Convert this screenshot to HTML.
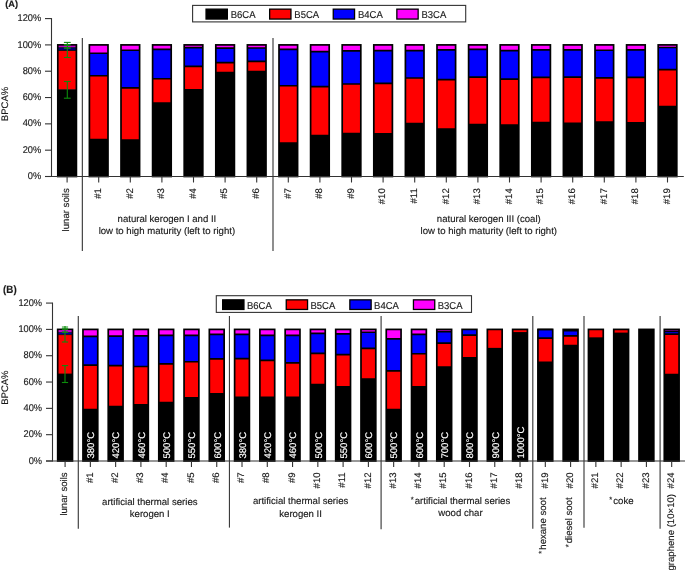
<!DOCTYPE html><html><head><meta charset="utf-8"><style>html,body{margin:0;padding:0;background:#fff;}svg{display:block;}text{text-rendering:geometricPrecision;font-family:"Liberation Sans", sans-serif;stroke:#1a1a1a;stroke-width:0.15px;}text.w{stroke:#fff;}svg{will-change:transform;}</style></head><body>
<svg width="685" height="570" viewBox="0 0 685 570">
<rect width="685" height="570" fill="#fff"/>
<line x1="82.35" y1="38" x2="82.35" y2="251" stroke="#3c3c3c" stroke-width="1.15"/>
<line x1="273" y1="38" x2="273" y2="251" stroke="#3c3c3c" stroke-width="1.15"/>
<rect x="57.8" y="89.67" width="18.6" height="86.83" fill="#000000"/>
<rect x="57.8" y="50.51" width="18.6" height="39.16" fill="#ff0000"/>
<rect x="57.8" y="47.23" width="18.6" height="3.28" fill="#00006e"/>
<rect x="57.8" y="44.9" width="18.6" height="2.33" fill="#ff00ff"/>
<path d="M57.8 89.67H76.4M57.8 50.51H76.4M57.8 47.23H76.4" stroke="#000" stroke-width="0.8"/>
<rect x="57.8" y="44.9" width="18.6" height="131.6" fill="none" stroke="#000" stroke-width="1.7"/>
<rect x="89.4" y="139.6" width="18.6" height="36.9" fill="#000000"/>
<rect x="89.4" y="75.74" width="18.6" height="63.86" fill="#ff0000"/>
<rect x="89.4" y="53.27" width="18.6" height="22.47" fill="#0000ff"/>
<rect x="89.4" y="44.9" width="18.6" height="8.37" fill="#ff00ff"/>
<path d="M89.4 139.6H108M89.4 75.74H108M89.4 53.27H108" stroke="#000" stroke-width="1.7"/>
<rect x="89.4" y="44.9" width="18.6" height="131.6" fill="none" stroke="#000" stroke-width="1.7"/>
<rect x="121" y="140" width="18.6" height="36.5" fill="#000000"/>
<rect x="121" y="87.96" width="18.6" height="52.03" fill="#ff0000"/>
<rect x="121" y="50.25" width="18.6" height="37.71" fill="#0000ff"/>
<rect x="121" y="44.9" width="18.6" height="5.35" fill="#ff00ff"/>
<path d="M121 140H139.6M121 87.96H139.6M121 50.25H139.6" stroke="#000" stroke-width="1.7"/>
<rect x="121" y="44.9" width="18.6" height="131.6" fill="none" stroke="#000" stroke-width="1.7"/>
<rect x="152.6" y="103.2" width="18.6" height="73.3" fill="#000000"/>
<rect x="152.6" y="78.76" width="18.6" height="24.44" fill="#ff0000"/>
<rect x="152.6" y="49.46" width="18.6" height="29.3" fill="#0000ff"/>
<rect x="152.6" y="44.9" width="18.6" height="4.56" fill="#ff00ff"/>
<path d="M152.6 103.2H171.2M152.6 78.76H171.2M152.6 49.46H171.2" stroke="#000" stroke-width="1.7"/>
<rect x="152.6" y="44.9" width="18.6" height="131.6" fill="none" stroke="#000" stroke-width="1.7"/>
<rect x="184.2" y="89.8" width="18.6" height="86.7" fill="#000000"/>
<rect x="184.2" y="66.41" width="18.6" height="23.39" fill="#ff0000"/>
<rect x="184.2" y="47.62" width="18.6" height="18.79" fill="#0000ff"/>
<rect x="184.2" y="44.9" width="18.6" height="2.72" fill="#ff00ff"/>
<path d="M184.2 89.8H202.8M184.2 66.41H202.8M184.2 47.62H202.8" stroke="#000" stroke-width="1.7"/>
<rect x="184.2" y="44.9" width="18.6" height="131.6" fill="none" stroke="#000" stroke-width="1.7"/>
<rect x="215.8" y="72.59" width="18.6" height="103.91" fill="#000000"/>
<rect x="215.8" y="62.6" width="18.6" height="9.99" fill="#ff0000"/>
<rect x="215.8" y="48.15" width="18.6" height="14.45" fill="#0000ff"/>
<rect x="215.8" y="44.9" width="18.6" height="3.25" fill="#ff00ff"/>
<path d="M215.8 72.59H234.4M215.8 62.6H234.4M215.8 48.15H234.4" stroke="#000" stroke-width="1.7"/>
<rect x="215.8" y="44.9" width="18.6" height="131.6" fill="none" stroke="#000" stroke-width="1.7"/>
<rect x="247.4" y="71.54" width="18.6" height="104.96" fill="#000000"/>
<rect x="247.4" y="61.29" width="18.6" height="10.25" fill="#ff0000"/>
<rect x="247.4" y="48.02" width="18.6" height="13.27" fill="#0000ff"/>
<rect x="247.4" y="44.9" width="18.6" height="3.12" fill="#ff00ff"/>
<path d="M247.4 71.54H266M247.4 61.29H266M247.4 48.02H266" stroke="#000" stroke-width="1.7"/>
<rect x="247.4" y="44.9" width="18.6" height="131.6" fill="none" stroke="#000" stroke-width="1.7"/>
<rect x="279" y="143.02" width="18.6" height="33.48" fill="#000000"/>
<rect x="279" y="85.73" width="18.6" height="57.29" fill="#ff0000"/>
<rect x="279" y="49.46" width="18.6" height="36.27" fill="#0000ff"/>
<rect x="279" y="44.9" width="18.6" height="4.56" fill="#ff00ff"/>
<path d="M279 143.02H297.6M279 85.73H297.6M279 49.46H297.6" stroke="#000" stroke-width="1.7"/>
<rect x="279" y="44.9" width="18.6" height="131.6" fill="none" stroke="#000" stroke-width="1.7"/>
<rect x="310.6" y="135.66" width="18.6" height="40.84" fill="#000000"/>
<rect x="310.6" y="86.65" width="18.6" height="49.01" fill="#ff0000"/>
<rect x="310.6" y="51.56" width="18.6" height="35.08" fill="#0000ff"/>
<rect x="310.6" y="44.9" width="18.6" height="6.66" fill="#ff00ff"/>
<path d="M310.6 135.66H329.2M310.6 86.65H329.2M310.6 51.56H329.2" stroke="#000" stroke-width="1.7"/>
<rect x="310.6" y="44.9" width="18.6" height="131.6" fill="none" stroke="#000" stroke-width="1.7"/>
<rect x="342.2" y="133.69" width="18.6" height="42.81" fill="#000000"/>
<rect x="342.2" y="84.02" width="18.6" height="49.67" fill="#ff0000"/>
<rect x="342.2" y="50.78" width="18.6" height="33.24" fill="#0000ff"/>
<rect x="342.2" y="44.9" width="18.6" height="5.88" fill="#ff00ff"/>
<path d="M342.2 133.69H360.8M342.2 84.02H360.8M342.2 50.78H360.8" stroke="#000" stroke-width="1.7"/>
<rect x="342.2" y="44.9" width="18.6" height="131.6" fill="none" stroke="#000" stroke-width="1.7"/>
<rect x="373.8" y="133.82" width="18.6" height="42.68" fill="#000000"/>
<rect x="373.8" y="83.36" width="18.6" height="50.46" fill="#ff0000"/>
<rect x="373.8" y="50.64" width="18.6" height="32.72" fill="#0000ff"/>
<rect x="373.8" y="44.9" width="18.6" height="5.74" fill="#ff00ff"/>
<path d="M373.8 133.82H392.4M373.8 83.36H392.4M373.8 50.64H392.4" stroke="#000" stroke-width="1.7"/>
<rect x="373.8" y="44.9" width="18.6" height="131.6" fill="none" stroke="#000" stroke-width="1.7"/>
<rect x="405.4" y="123.7" width="18.6" height="52.8" fill="#000000"/>
<rect x="405.4" y="77.98" width="18.6" height="45.73" fill="#ff0000"/>
<rect x="405.4" y="50.64" width="18.6" height="27.33" fill="#0000ff"/>
<rect x="405.4" y="44.9" width="18.6" height="5.74" fill="#ff00ff"/>
<path d="M405.4 123.7H424M405.4 77.98H424M405.4 50.64H424" stroke="#000" stroke-width="1.7"/>
<rect x="405.4" y="44.9" width="18.6" height="131.6" fill="none" stroke="#000" stroke-width="1.7"/>
<rect x="437" y="129.09" width="18.6" height="47.41" fill="#000000"/>
<rect x="437" y="79.55" width="18.6" height="49.54" fill="#ff0000"/>
<rect x="437" y="49.86" width="18.6" height="29.7" fill="#0000ff"/>
<rect x="437" y="44.9" width="18.6" height="4.96" fill="#ff00ff"/>
<path d="M437 129.09H455.6M437 79.55H455.6M437 49.86H455.6" stroke="#000" stroke-width="1.7"/>
<rect x="437" y="44.9" width="18.6" height="131.6" fill="none" stroke="#000" stroke-width="1.7"/>
<rect x="468.6" y="124.62" width="18.6" height="51.88" fill="#000000"/>
<rect x="468.6" y="77.06" width="18.6" height="47.57" fill="#ff0000"/>
<rect x="468.6" y="49.46" width="18.6" height="27.59" fill="#0000ff"/>
<rect x="468.6" y="44.9" width="18.6" height="4.56" fill="#ff00ff"/>
<path d="M468.6 124.62H487.2M468.6 77.06H487.2M468.6 49.46H487.2" stroke="#000" stroke-width="1.7"/>
<rect x="468.6" y="44.9" width="18.6" height="131.6" fill="none" stroke="#000" stroke-width="1.7"/>
<rect x="500.2" y="125.02" width="18.6" height="51.48" fill="#000000"/>
<rect x="500.2" y="79.16" width="18.6" height="45.86" fill="#ff0000"/>
<rect x="500.2" y="50.64" width="18.6" height="28.51" fill="#0000ff"/>
<rect x="500.2" y="44.9" width="18.6" height="5.74" fill="#ff00ff"/>
<path d="M500.2 125.02H518.8M500.2 79.16H518.8M500.2 50.64H518.8" stroke="#000" stroke-width="1.7"/>
<rect x="500.2" y="44.9" width="18.6" height="131.6" fill="none" stroke="#000" stroke-width="1.7"/>
<rect x="531.8" y="122.52" width="18.6" height="53.98" fill="#000000"/>
<rect x="531.8" y="77.45" width="18.6" height="45.07" fill="#ff0000"/>
<rect x="531.8" y="49.86" width="18.6" height="27.59" fill="#0000ff"/>
<rect x="531.8" y="44.9" width="18.6" height="4.96" fill="#ff00ff"/>
<path d="M531.8 122.52H550.4M531.8 77.45H550.4M531.8 49.86H550.4" stroke="#000" stroke-width="1.7"/>
<rect x="531.8" y="44.9" width="18.6" height="131.6" fill="none" stroke="#000" stroke-width="1.7"/>
<rect x="563.4" y="123.31" width="18.6" height="53.19" fill="#000000"/>
<rect x="563.4" y="77.06" width="18.6" height="46.25" fill="#ff0000"/>
<rect x="563.4" y="49.86" width="18.6" height="27.2" fill="#0000ff"/>
<rect x="563.4" y="44.9" width="18.6" height="4.96" fill="#ff00ff"/>
<path d="M563.4 123.31H582M563.4 77.06H582M563.4 49.86H582" stroke="#000" stroke-width="1.7"/>
<rect x="563.4" y="44.9" width="18.6" height="131.6" fill="none" stroke="#000" stroke-width="1.7"/>
<rect x="595" y="121.99" width="18.6" height="54.51" fill="#000000"/>
<rect x="595" y="77.84" width="18.6" height="44.15" fill="#ff0000"/>
<rect x="595" y="50.25" width="18.6" height="27.59" fill="#0000ff"/>
<rect x="595" y="44.9" width="18.6" height="5.35" fill="#ff00ff"/>
<path d="M595 121.99H613.6M595 77.84H613.6M595 50.25H613.6" stroke="#000" stroke-width="1.7"/>
<rect x="595" y="44.9" width="18.6" height="131.6" fill="none" stroke="#000" stroke-width="1.7"/>
<rect x="626.6" y="122.78" width="18.6" height="53.72" fill="#000000"/>
<rect x="626.6" y="77.45" width="18.6" height="45.33" fill="#ff0000"/>
<rect x="626.6" y="49.86" width="18.6" height="27.59" fill="#0000ff"/>
<rect x="626.6" y="44.9" width="18.6" height="4.96" fill="#ff00ff"/>
<path d="M626.6 122.78H645.2M626.6 77.45H645.2M626.6 49.86H645.2" stroke="#000" stroke-width="1.7"/>
<rect x="626.6" y="44.9" width="18.6" height="131.6" fill="none" stroke="#000" stroke-width="1.7"/>
<rect x="658.2" y="106.49" width="18.6" height="70.01" fill="#000000"/>
<rect x="658.2" y="69.57" width="18.6" height="36.92" fill="#ff0000"/>
<rect x="658.2" y="47.49" width="18.6" height="22.08" fill="#0000ff"/>
<rect x="658.2" y="44.9" width="18.6" height="2.59" fill="#ff00ff"/>
<path d="M658.2 106.49H676.8M658.2 69.57H676.8M658.2 47.49H676.8" stroke="#000" stroke-width="1.7"/>
<rect x="658.2" y="44.9" width="18.6" height="131.6" fill="none" stroke="#000" stroke-width="1.7"/>
<line x1="51.5" y1="18.1" x2="51.5" y2="177" stroke="#333" stroke-width="1.1"/>
<line x1="45" y1="176.5" x2="683.8" y2="176.5" stroke="#333" stroke-width="1.1"/>
<line x1="45" y1="176.5" x2="51.5" y2="176.5" stroke="#333" stroke-width="1.1"/>
<text transform="translate(41.2,179.1) scale(0.945,1)" font-size="9.8" text-anchor="end" fill="#1a1a1a">0%</text>
<line x1="45" y1="150.18" x2="51.5" y2="150.18" stroke="#333" stroke-width="1.1"/>
<text transform="translate(41.2,152.78) scale(0.945,1)" font-size="9.8" text-anchor="end" fill="#1a1a1a">20%</text>
<line x1="45" y1="123.86" x2="51.5" y2="123.86" stroke="#333" stroke-width="1.1"/>
<text transform="translate(41.2,126.46) scale(0.945,1)" font-size="9.8" text-anchor="end" fill="#1a1a1a">40%</text>
<line x1="45" y1="97.54" x2="51.5" y2="97.54" stroke="#333" stroke-width="1.1"/>
<text transform="translate(41.2,100.14) scale(0.945,1)" font-size="9.8" text-anchor="end" fill="#1a1a1a">60%</text>
<line x1="45" y1="71.22" x2="51.5" y2="71.22" stroke="#333" stroke-width="1.1"/>
<text transform="translate(41.2,73.82) scale(0.945,1)" font-size="9.8" text-anchor="end" fill="#1a1a1a">80%</text>
<line x1="45" y1="44.9" x2="51.5" y2="44.9" stroke="#333" stroke-width="1.1"/>
<text transform="translate(41.2,47.5) scale(0.945,1)" font-size="9.8" text-anchor="end" fill="#1a1a1a">100%</text>
<line x1="45" y1="18.58" x2="51.5" y2="18.58" stroke="#333" stroke-width="1.1"/>
<text transform="translate(41.2,21.18) scale(0.945,1)" font-size="9.8" text-anchor="end" fill="#1a1a1a">120%</text>
<line x1="67.1" y1="176.5" x2="67.1" y2="182.5" stroke="#333" stroke-width="1.1"/>
<line x1="98.7" y1="176.5" x2="98.7" y2="182.5" stroke="#333" stroke-width="1.1"/>
<line x1="130.3" y1="176.5" x2="130.3" y2="182.5" stroke="#333" stroke-width="1.1"/>
<line x1="161.9" y1="176.5" x2="161.9" y2="182.5" stroke="#333" stroke-width="1.1"/>
<line x1="193.5" y1="176.5" x2="193.5" y2="182.5" stroke="#333" stroke-width="1.1"/>
<line x1="225.1" y1="176.5" x2="225.1" y2="182.5" stroke="#333" stroke-width="1.1"/>
<line x1="256.7" y1="176.5" x2="256.7" y2="182.5" stroke="#333" stroke-width="1.1"/>
<line x1="288.3" y1="176.5" x2="288.3" y2="182.5" stroke="#333" stroke-width="1.1"/>
<line x1="319.9" y1="176.5" x2="319.9" y2="182.5" stroke="#333" stroke-width="1.1"/>
<line x1="351.5" y1="176.5" x2="351.5" y2="182.5" stroke="#333" stroke-width="1.1"/>
<line x1="383.1" y1="176.5" x2="383.1" y2="182.5" stroke="#333" stroke-width="1.1"/>
<line x1="414.7" y1="176.5" x2="414.7" y2="182.5" stroke="#333" stroke-width="1.1"/>
<line x1="446.3" y1="176.5" x2="446.3" y2="182.5" stroke="#333" stroke-width="1.1"/>
<line x1="477.9" y1="176.5" x2="477.9" y2="182.5" stroke="#333" stroke-width="1.1"/>
<line x1="509.5" y1="176.5" x2="509.5" y2="182.5" stroke="#333" stroke-width="1.1"/>
<line x1="541.1" y1="176.5" x2="541.1" y2="182.5" stroke="#333" stroke-width="1.1"/>
<line x1="572.7" y1="176.5" x2="572.7" y2="182.5" stroke="#333" stroke-width="1.1"/>
<line x1="604.3" y1="176.5" x2="604.3" y2="182.5" stroke="#333" stroke-width="1.1"/>
<line x1="635.9" y1="176.5" x2="635.9" y2="182.5" stroke="#333" stroke-width="1.1"/>
<line x1="667.5" y1="176.5" x2="667.5" y2="182.5" stroke="#333" stroke-width="1.1"/>
<g stroke="#0c8c0c" stroke-width="1.1" fill="none">
<line x1="67.3" y1="42.4" x2="67.3" y2="57.5"/>
<line x1="63.9" y1="42.4" x2="70.7" y2="42.4"/>
<line x1="63.9" y1="57.5" x2="70.7" y2="57.5"/>
<line x1="67.3" y1="81.5" x2="67.3" y2="98.2"/>
<line x1="63.9" y1="81.5" x2="70.7" y2="81.5"/>
<line x1="63.9" y1="98.2" x2="70.7" y2="98.2"/>
</g>
<rect x="63.9" y="44.0" width="6.8" height="1.7" fill="#0c8c0c"/>
<rect x="63.9" y="47.2" width="6.8" height="1.6" fill="#0c8c0c"/>
<text transform="translate(69.3,188.2) rotate(-90)" font-size="9.6" text-anchor="end" fill="#1a1a1a">lunar soils</text>
<text transform="translate(100.9,188.2) rotate(-90)" font-size="9.6" text-anchor="end" fill="#1a1a1a">#1</text>
<text transform="translate(132.5,188.2) rotate(-90)" font-size="9.6" text-anchor="end" fill="#1a1a1a">#2</text>
<text transform="translate(164.1,188.2) rotate(-90)" font-size="9.6" text-anchor="end" fill="#1a1a1a">#3</text>
<text transform="translate(195.7,188.2) rotate(-90)" font-size="9.6" text-anchor="end" fill="#1a1a1a">#4</text>
<text transform="translate(227.3,188.2) rotate(-90)" font-size="9.6" text-anchor="end" fill="#1a1a1a">#5</text>
<text transform="translate(258.9,188.2) rotate(-90)" font-size="9.6" text-anchor="end" fill="#1a1a1a">#6</text>
<text transform="translate(290.5,188.2) rotate(-90)" font-size="9.6" text-anchor="end" fill="#1a1a1a">#7</text>
<text transform="translate(322.1,188.2) rotate(-90)" font-size="9.6" text-anchor="end" fill="#1a1a1a">#8</text>
<text transform="translate(353.7,188.2) rotate(-90)" font-size="9.6" text-anchor="end" fill="#1a1a1a">#9</text>
<text transform="translate(385.3,188.2) rotate(-90)" font-size="9.6" text-anchor="end" fill="#1a1a1a">#10</text>
<text transform="translate(416.9,188.2) rotate(-90)" font-size="9.6" text-anchor="end" fill="#1a1a1a">#11</text>
<text transform="translate(448.5,188.2) rotate(-90)" font-size="9.6" text-anchor="end" fill="#1a1a1a">#12</text>
<text transform="translate(480.1,188.2) rotate(-90)" font-size="9.6" text-anchor="end" fill="#1a1a1a">#13</text>
<text transform="translate(511.7,188.2) rotate(-90)" font-size="9.6" text-anchor="end" fill="#1a1a1a">#14</text>
<text transform="translate(543.3,188.2) rotate(-90)" font-size="9.6" text-anchor="end" fill="#1a1a1a">#15</text>
<text transform="translate(574.9,188.2) rotate(-90)" font-size="9.6" text-anchor="end" fill="#1a1a1a">#16</text>
<text transform="translate(606.5,188.2) rotate(-90)" font-size="9.6" text-anchor="end" fill="#1a1a1a">#17</text>
<text transform="translate(638.1,188.2) rotate(-90)" font-size="9.6" text-anchor="end" fill="#1a1a1a">#18</text>
<text transform="translate(669.7,188.2) rotate(-90)" font-size="9.6" text-anchor="end" fill="#1a1a1a">#19</text>
<text x="166.9" y="222" font-size="9.6" text-anchor="middle" fill="#1a1a1a">natural kerogen I and II</text>
<text x="166.9" y="233.6" font-size="9.6" text-anchor="middle" fill="#1a1a1a">low to high maturity (left to right)</text>
<text x="488.8" y="222" font-size="9.6" text-anchor="middle" fill="#1a1a1a">natural kerogen III (coal)</text>
<text x="488.8" y="233.6" font-size="9.6" text-anchor="middle" fill="#1a1a1a">low to high maturity (left to right)</text>
<text x="5.3" y="7.2" font-size="9.2" font-weight="bold" fill="#1a1a1a">(A)</text>
<text transform="translate(7.9,104) rotate(-90)" font-size="9.5" text-anchor="middle" fill="#1a1a1a">BPCA%</text>
<rect x="192.6" y="5.4" width="273.1" height="16.5" fill="#fff" stroke="#333" stroke-width="1.1"/>
<rect x="206.05" y="9.15" width="21.3" height="9.9" fill="#000000" stroke="#000" stroke-width="1.3"/>
<text transform="translate(230.7,17.5) scale(0.95,1)" font-size="10" fill="#1a1a1a">B6CA</text>
<rect x="269.65" y="9.15" width="21.3" height="9.9" fill="#ff0000" stroke="#000" stroke-width="1.3"/>
<text transform="translate(294.3,17.5) scale(0.95,1)" font-size="10" fill="#1a1a1a">B5CA</text>
<rect x="333.25" y="9.15" width="21.3" height="9.9" fill="#0000ff" stroke="#000" stroke-width="1.3"/>
<text transform="translate(357.9,17.5) scale(0.95,1)" font-size="10" fill="#1a1a1a">B4CA</text>
<rect x="396.85" y="9.15" width="21.3" height="9.9" fill="#ff00ff" stroke="#000" stroke-width="1.3"/>
<text transform="translate(421.5,17.5) scale(0.95,1)" font-size="10" fill="#1a1a1a">B3CA</text>
<line x1="78.3" y1="316" x2="78.3" y2="528.7" stroke="#3c3c3c" stroke-width="1.15"/>
<line x1="229.45" y1="316" x2="229.45" y2="527.6" stroke="#3c3c3c" stroke-width="1.15"/>
<line x1="381.1" y1="316" x2="381.1" y2="529.2" stroke="#3c3c3c" stroke-width="1.15"/>
<line x1="532.8" y1="316" x2="532.8" y2="528.7" stroke="#3c3c3c" stroke-width="1.15"/>
<line x1="584" y1="316" x2="584" y2="527.8" stroke="#3c3c3c" stroke-width="1.15"/>
<line x1="660.1" y1="316" x2="660.1" y2="528.7" stroke="#3c3c3c" stroke-width="1.15"/>
<rect x="57.69" y="374.01" width="14.8" height="86.99" fill="#000000"/>
<rect x="57.69" y="334.63" width="14.8" height="39.38" fill="#ff0000"/>
<rect x="57.69" y="332.26" width="14.8" height="2.37" fill="#0000a8"/>
<rect x="57.69" y="329.4" width="14.8" height="2.86" fill="#ff00ff"/>
<path d="M57.69 374.01H72.49M57.69 334.63H72.49M57.69 332.26H72.49" stroke="#000" stroke-width="0.8"/>
<rect x="57.69" y="329.4" width="14.8" height="131.6" fill="none" stroke="#000" stroke-width="1.7"/>
<rect x="82.96" y="409.7" width="14.8" height="51.3" fill="#000000"/>
<rect x="82.96" y="365.05" width="14.8" height="44.65" fill="#ff0000"/>
<rect x="82.96" y="336.34" width="14.8" height="28.71" fill="#0000ff"/>
<rect x="82.96" y="329.4" width="14.8" height="6.94" fill="#ff00ff"/>
<path d="M82.96 409.7H97.76M82.96 365.05H97.76M82.96 336.34H97.76" stroke="#000" stroke-width="1.7"/>
<rect x="82.96" y="329.4" width="14.8" height="131.6" fill="none" stroke="#000" stroke-width="1.7"/>
<rect x="108.24" y="406.67" width="14.8" height="54.33" fill="#000000"/>
<rect x="108.24" y="365.58" width="14.8" height="41.09" fill="#ff0000"/>
<rect x="108.24" y="336.08" width="14.8" height="29.5" fill="#0000ff"/>
<rect x="108.24" y="329.4" width="14.8" height="6.68" fill="#ff00ff"/>
<path d="M108.24 406.67H123.04M108.24 365.58H123.04M108.24 336.08H123.04" stroke="#000" stroke-width="1.7"/>
<rect x="108.24" y="329.4" width="14.8" height="131.6" fill="none" stroke="#000" stroke-width="1.7"/>
<rect x="133.51" y="404.83" width="14.8" height="56.17" fill="#000000"/>
<rect x="133.51" y="366.5" width="14.8" height="38.32" fill="#ff0000"/>
<rect x="133.51" y="335.82" width="14.8" height="30.69" fill="#0000ff"/>
<rect x="133.51" y="329.4" width="14.8" height="6.42" fill="#ff00ff"/>
<path d="M133.51 404.83H148.31M133.51 366.5H148.31M133.51 335.82H148.31" stroke="#000" stroke-width="1.7"/>
<rect x="133.51" y="329.4" width="14.8" height="131.6" fill="none" stroke="#000" stroke-width="1.7"/>
<rect x="158.79" y="402.72" width="14.8" height="58.28" fill="#000000"/>
<rect x="158.79" y="363.87" width="14.8" height="38.85" fill="#ff0000"/>
<rect x="158.79" y="335.42" width="14.8" height="28.45" fill="#0000ff"/>
<rect x="158.79" y="329.4" width="14.8" height="6.02" fill="#ff00ff"/>
<path d="M158.79 402.72H173.59M158.79 363.87H173.59M158.79 335.42H173.59" stroke="#000" stroke-width="1.7"/>
<rect x="158.79" y="329.4" width="14.8" height="131.6" fill="none" stroke="#000" stroke-width="1.7"/>
<rect x="184.06" y="397.85" width="14.8" height="63.15" fill="#000000"/>
<rect x="184.06" y="361.76" width="14.8" height="36.09" fill="#ff0000"/>
<rect x="184.06" y="335.29" width="14.8" height="26.47" fill="#0000ff"/>
<rect x="184.06" y="329.4" width="14.8" height="5.89" fill="#ff00ff"/>
<path d="M184.06 397.85H198.86M184.06 361.76H198.86M184.06 335.29H198.86" stroke="#000" stroke-width="1.7"/>
<rect x="184.06" y="329.4" width="14.8" height="131.6" fill="none" stroke="#000" stroke-width="1.7"/>
<rect x="209.34" y="393.9" width="14.8" height="67.1" fill="#000000"/>
<rect x="209.34" y="358.86" width="14.8" height="35.03" fill="#ff0000"/>
<rect x="209.34" y="334.37" width="14.8" height="24.5" fill="#0000ff"/>
<rect x="209.34" y="329.4" width="14.8" height="4.97" fill="#ff00ff"/>
<path d="M209.34 393.9H224.14M209.34 358.86H224.14M209.34 334.37H224.14" stroke="#000" stroke-width="1.7"/>
<rect x="209.34" y="329.4" width="14.8" height="131.6" fill="none" stroke="#000" stroke-width="1.7"/>
<rect x="234.61" y="397.45" width="14.8" height="63.55" fill="#000000"/>
<rect x="234.61" y="358.6" width="14.8" height="38.85" fill="#ff0000"/>
<rect x="234.61" y="334.37" width="14.8" height="24.23" fill="#0000ff"/>
<rect x="234.61" y="329.4" width="14.8" height="4.97" fill="#ff00ff"/>
<path d="M234.61 397.45H249.41M234.61 358.6H249.41M234.61 334.37H249.41" stroke="#000" stroke-width="1.7"/>
<rect x="234.61" y="329.4" width="14.8" height="131.6" fill="none" stroke="#000" stroke-width="1.7"/>
<rect x="259.89" y="397.45" width="14.8" height="63.55" fill="#000000"/>
<rect x="259.89" y="360.44" width="14.8" height="37.01" fill="#ff0000"/>
<rect x="259.89" y="335.29" width="14.8" height="25.15" fill="#0000ff"/>
<rect x="259.89" y="329.4" width="14.8" height="5.89" fill="#ff00ff"/>
<path d="M259.89 397.45H274.69M259.89 360.44H274.69M259.89 335.29H274.69" stroke="#000" stroke-width="1.7"/>
<rect x="259.89" y="329.4" width="14.8" height="131.6" fill="none" stroke="#000" stroke-width="1.7"/>
<rect x="285.16" y="397.45" width="14.8" height="63.55" fill="#000000"/>
<rect x="285.16" y="362.95" width="14.8" height="34.51" fill="#ff0000"/>
<rect x="285.16" y="335.42" width="14.8" height="27.53" fill="#0000ff"/>
<rect x="285.16" y="329.4" width="14.8" height="6.02" fill="#ff00ff"/>
<path d="M285.16 397.45H299.96M285.16 362.95H299.96M285.16 335.42H299.96" stroke="#000" stroke-width="1.7"/>
<rect x="285.16" y="329.4" width="14.8" height="131.6" fill="none" stroke="#000" stroke-width="1.7"/>
<rect x="310.44" y="384.68" width="14.8" height="76.32" fill="#000000"/>
<rect x="310.44" y="353.33" width="14.8" height="31.34" fill="#ff0000"/>
<rect x="310.44" y="333.45" width="14.8" height="19.89" fill="#0000ff"/>
<rect x="310.44" y="329.4" width="14.8" height="4.05" fill="#ff00ff"/>
<path d="M310.44 384.68H325.24M310.44 353.33H325.24M310.44 333.45H325.24" stroke="#000" stroke-width="1.7"/>
<rect x="310.44" y="329.4" width="14.8" height="131.6" fill="none" stroke="#000" stroke-width="1.7"/>
<rect x="335.71" y="386.92" width="14.8" height="74.08" fill="#000000"/>
<rect x="335.71" y="354.65" width="14.8" height="32.27" fill="#ff0000"/>
<rect x="335.71" y="333.97" width="14.8" height="20.68" fill="#0000ff"/>
<rect x="335.71" y="329.4" width="14.8" height="4.57" fill="#ff00ff"/>
<path d="M335.71 386.92H350.51M335.71 354.65H350.51M335.71 333.97H350.51" stroke="#000" stroke-width="1.7"/>
<rect x="335.71" y="329.4" width="14.8" height="131.6" fill="none" stroke="#000" stroke-width="1.7"/>
<rect x="360.99" y="379.01" width="14.8" height="81.99" fill="#000000"/>
<rect x="360.99" y="348.33" width="14.8" height="30.69" fill="#ff0000"/>
<rect x="360.99" y="332.26" width="14.8" height="16.07" fill="#0000ff"/>
<rect x="360.99" y="329.4" width="14.8" height="2.86" fill="#ff00ff"/>
<path d="M360.99 379.01H375.79M360.99 348.33H375.79M360.99 332.26H375.79" stroke="#000" stroke-width="1.7"/>
<rect x="360.99" y="329.4" width="14.8" height="131.6" fill="none" stroke="#000" stroke-width="1.7"/>
<rect x="386.26" y="409.7" width="14.8" height="51.3" fill="#000000"/>
<rect x="386.26" y="370.85" width="14.8" height="38.85" fill="#ff0000"/>
<rect x="386.26" y="338.85" width="14.8" height="32" fill="#0000ff"/>
<rect x="386.26" y="329.4" width="14.8" height="9.45" fill="#ff00ff"/>
<path d="M386.26 409.7H401.06M386.26 370.85H401.06M386.26 338.85H401.06" stroke="#000" stroke-width="1.7"/>
<rect x="386.26" y="329.4" width="14.8" height="131.6" fill="none" stroke="#000" stroke-width="1.7"/>
<rect x="411.54" y="386.92" width="14.8" height="74.08" fill="#000000"/>
<rect x="411.54" y="353.73" width="14.8" height="33.19" fill="#ff0000"/>
<rect x="411.54" y="334.37" width="14.8" height="19.36" fill="#0000ff"/>
<rect x="411.54" y="329.4" width="14.8" height="4.97" fill="#ff00ff"/>
<path d="M411.54 386.92H426.34M411.54 353.73H426.34M411.54 334.37H426.34" stroke="#000" stroke-width="1.7"/>
<rect x="411.54" y="329.4" width="14.8" height="131.6" fill="none" stroke="#000" stroke-width="1.7"/>
<rect x="436.81" y="367.16" width="14.8" height="93.84" fill="#000000"/>
<rect x="436.81" y="343.19" width="14.8" height="23.97" fill="#ff0000"/>
<rect x="436.81" y="331.6" width="14.8" height="11.59" fill="#0000ff"/>
<rect x="436.81" y="329.4" width="14.8" height="2.2" fill="#ff00ff"/>
<path d="M436.81 367.16H451.61M436.81 343.19H451.61M436.81 331.6H451.61" stroke="#000" stroke-width="1.7"/>
<rect x="436.81" y="329.4" width="14.8" height="131.6" fill="none" stroke="#000" stroke-width="1.7"/>
<rect x="462.09" y="357.81" width="14.8" height="103.19" fill="#000000"/>
<rect x="462.09" y="335.16" width="14.8" height="22.65" fill="#ff0000"/>
<rect x="462.09" y="329.4" width="14.8" height="5.76" fill="#0000ff"/>
<path d="M462.09 357.81H476.89M462.09 335.16H476.89" stroke="#000" stroke-width="1.7"/>
<rect x="462.09" y="329.4" width="14.8" height="131.6" fill="none" stroke="#000" stroke-width="1.7"/>
<rect x="487.36" y="348.72" width="14.8" height="112.28" fill="#000000"/>
<rect x="487.36" y="329.4" width="14.8" height="19.32" fill="#ff0000"/>
<path d="M487.36 348.72H502.16" stroke="#000" stroke-width="1.7"/>
<rect x="487.36" y="329.4" width="14.8" height="131.6" fill="none" stroke="#000" stroke-width="1.7"/>
<rect x="512.64" y="332.92" width="14.8" height="128.08" fill="#000000"/>
<rect x="512.64" y="329.4" width="14.8" height="3.52" fill="#ff0000"/>
<path d="M512.64 332.92H527.44" stroke="#000" stroke-width="1.7"/>
<rect x="512.64" y="329.4" width="14.8" height="131.6" fill="none" stroke="#000" stroke-width="1.7"/>
<rect x="537.91" y="362.29" width="14.8" height="98.71" fill="#000000"/>
<rect x="537.91" y="338.19" width="14.8" height="24.1" fill="#ff0000"/>
<rect x="537.91" y="329.5" width="14.8" height="8.69" fill="#0000ff"/>
<rect x="537.91" y="329.4" width="14.8" height="0.1" fill="#ff00ff"/>
<path d="M537.91 362.29H552.71M537.91 338.19H552.71M537.91 329.5H552.71" stroke="#000" stroke-width="1.7"/>
<rect x="537.91" y="329.4" width="14.8" height="131.6" fill="none" stroke="#000" stroke-width="1.7"/>
<rect x="563.19" y="345.69" width="14.8" height="115.31" fill="#000000"/>
<rect x="563.19" y="335.82" width="14.8" height="9.88" fill="#ff0000"/>
<rect x="563.19" y="330.55" width="14.8" height="5.27" fill="#0000ff"/>
<rect x="563.19" y="329.4" width="14.8" height="1.15" fill="#ff00ff"/>
<path d="M563.19 345.69H577.99M563.19 335.82H577.99M563.19 330.55H577.99" stroke="#000" stroke-width="1.7"/>
<rect x="563.19" y="329.4" width="14.8" height="131.6" fill="none" stroke="#000" stroke-width="1.7"/>
<rect x="588.46" y="338.19" width="14.8" height="122.81" fill="#000000"/>
<rect x="588.46" y="329.4" width="14.8" height="8.79" fill="#ff0000"/>
<path d="M588.46 338.19H603.26" stroke="#000" stroke-width="1.7"/>
<rect x="588.46" y="329.4" width="14.8" height="131.6" fill="none" stroke="#000" stroke-width="1.7"/>
<rect x="613.74" y="333.45" width="14.8" height="127.55" fill="#000000"/>
<rect x="613.74" y="329.4" width="14.8" height="4.05" fill="#ff0000"/>
<path d="M613.74 333.45H628.54" stroke="#000" stroke-width="1.7"/>
<rect x="613.74" y="329.4" width="14.8" height="131.6" fill="none" stroke="#000" stroke-width="1.7"/>
<rect x="639.01" y="329.4" width="14.8" height="131.6" fill="#000000"/>
<rect x="639.01" y="329.4" width="14.8" height="131.6" fill="none" stroke="#000" stroke-width="1.7"/>
<rect x="664.29" y="374.54" width="14.8" height="86.46" fill="#000000"/>
<rect x="664.29" y="334.1" width="14.8" height="40.43" fill="#ff0000"/>
<rect x="664.29" y="331.47" width="14.8" height="2.63" fill="#0000ff"/>
<rect x="664.29" y="329.4" width="14.8" height="2.07" fill="#ff00ff"/>
<path d="M664.29 374.54H679.09M664.29 334.1H679.09M664.29 331.47H679.09" stroke="#000" stroke-width="1.7"/>
<rect x="664.29" y="329.4" width="14.8" height="131.6" fill="none" stroke="#000" stroke-width="1.7"/>
<line x1="52.5" y1="302.6" x2="52.5" y2="461.5" stroke="#333" stroke-width="1.1"/>
<line x1="46" y1="461" x2="685.5" y2="461" stroke="#333" stroke-width="1.1"/>
<line x1="46" y1="461" x2="52.5" y2="461" stroke="#333" stroke-width="1.1"/>
<text transform="translate(42.1,463.6) scale(0.945,1)" font-size="9.8" text-anchor="end" fill="#1a1a1a">0%</text>
<line x1="46" y1="434.68" x2="52.5" y2="434.68" stroke="#333" stroke-width="1.1"/>
<text transform="translate(42.1,437.28) scale(0.945,1)" font-size="9.8" text-anchor="end" fill="#1a1a1a">20%</text>
<line x1="46" y1="408.36" x2="52.5" y2="408.36" stroke="#333" stroke-width="1.1"/>
<text transform="translate(42.1,410.96) scale(0.945,1)" font-size="9.8" text-anchor="end" fill="#1a1a1a">40%</text>
<line x1="46" y1="382.04" x2="52.5" y2="382.04" stroke="#333" stroke-width="1.1"/>
<text transform="translate(42.1,384.64) scale(0.945,1)" font-size="9.8" text-anchor="end" fill="#1a1a1a">60%</text>
<line x1="46" y1="355.72" x2="52.5" y2="355.72" stroke="#333" stroke-width="1.1"/>
<text transform="translate(42.1,358.32) scale(0.945,1)" font-size="9.8" text-anchor="end" fill="#1a1a1a">80%</text>
<line x1="46" y1="329.4" x2="52.5" y2="329.4" stroke="#333" stroke-width="1.1"/>
<text transform="translate(42.1,332) scale(0.945,1)" font-size="9.8" text-anchor="end" fill="#1a1a1a">100%</text>
<line x1="46" y1="303.08" x2="52.5" y2="303.08" stroke="#333" stroke-width="1.1"/>
<text transform="translate(42.1,305.68) scale(0.945,1)" font-size="9.8" text-anchor="end" fill="#1a1a1a">120%</text>
<line x1="65.09" y1="461" x2="65.09" y2="467" stroke="#333" stroke-width="1.1"/>
<line x1="90.36" y1="461" x2="90.36" y2="467" stroke="#333" stroke-width="1.1"/>
<line x1="115.64" y1="461" x2="115.64" y2="467" stroke="#333" stroke-width="1.1"/>
<line x1="140.91" y1="461" x2="140.91" y2="467" stroke="#333" stroke-width="1.1"/>
<line x1="166.19" y1="461" x2="166.19" y2="467" stroke="#333" stroke-width="1.1"/>
<line x1="191.46" y1="461" x2="191.46" y2="467" stroke="#333" stroke-width="1.1"/>
<line x1="216.74" y1="461" x2="216.74" y2="467" stroke="#333" stroke-width="1.1"/>
<line x1="242.01" y1="461" x2="242.01" y2="467" stroke="#333" stroke-width="1.1"/>
<line x1="267.29" y1="461" x2="267.29" y2="467" stroke="#333" stroke-width="1.1"/>
<line x1="292.56" y1="461" x2="292.56" y2="467" stroke="#333" stroke-width="1.1"/>
<line x1="317.84" y1="461" x2="317.84" y2="467" stroke="#333" stroke-width="1.1"/>
<line x1="343.11" y1="461" x2="343.11" y2="467" stroke="#333" stroke-width="1.1"/>
<line x1="368.39" y1="461" x2="368.39" y2="467" stroke="#333" stroke-width="1.1"/>
<line x1="393.66" y1="461" x2="393.66" y2="467" stroke="#333" stroke-width="1.1"/>
<line x1="418.94" y1="461" x2="418.94" y2="467" stroke="#333" stroke-width="1.1"/>
<line x1="444.21" y1="461" x2="444.21" y2="467" stroke="#333" stroke-width="1.1"/>
<line x1="469.49" y1="461" x2="469.49" y2="467" stroke="#333" stroke-width="1.1"/>
<line x1="494.76" y1="461" x2="494.76" y2="467" stroke="#333" stroke-width="1.1"/>
<line x1="520.04" y1="461" x2="520.04" y2="467" stroke="#333" stroke-width="1.1"/>
<line x1="545.31" y1="461" x2="545.31" y2="467" stroke="#333" stroke-width="1.1"/>
<line x1="570.59" y1="461" x2="570.59" y2="467" stroke="#333" stroke-width="1.1"/>
<line x1="595.86" y1="461" x2="595.86" y2="467" stroke="#333" stroke-width="1.1"/>
<line x1="621.14" y1="461" x2="621.14" y2="467" stroke="#333" stroke-width="1.1"/>
<line x1="646.41" y1="461" x2="646.41" y2="467" stroke="#333" stroke-width="1.1"/>
<line x1="671.69" y1="461" x2="671.69" y2="467" stroke="#333" stroke-width="1.1"/>
<rect x="61.9" y="326.1" width="6.2" height="2.2" fill="#86c886"/>
<g stroke="#0c8c0c" stroke-width="1.1" fill="none">
<line x1="65" y1="326.1" x2="65" y2="342"/>
<line x1="61.9" y1="342" x2="68.1" y2="342"/>
<line x1="65" y1="365.6" x2="65" y2="382.5"/>
<line x1="61.9" y1="365.6" x2="68.1" y2="365.6"/>
<line x1="61.9" y1="382.5" x2="68.1" y2="382.5"/>
</g>
<rect x="61.9" y="328.3" width="6.2" height="1.5" fill="#0c8c0c"/>
<rect x="61.9" y="331.4" width="6.2" height="1.5" fill="#0c8c0c"/>
<text class="w" transform="translate(94.16,458.6) rotate(-90)" font-size="9.6" text-anchor="start" fill="#fff">380°C</text>
<text class="w" transform="translate(119.44,458.6) rotate(-90)" font-size="9.6" text-anchor="start" fill="#fff">420°C</text>
<text class="w" transform="translate(144.71,458.6) rotate(-90)" font-size="9.6" text-anchor="start" fill="#fff">460°C</text>
<text class="w" transform="translate(169.99,458.6) rotate(-90)" font-size="9.6" text-anchor="start" fill="#fff">500°C</text>
<text class="w" transform="translate(195.26,458.6) rotate(-90)" font-size="9.6" text-anchor="start" fill="#fff">550°C</text>
<text class="w" transform="translate(220.54,458.6) rotate(-90)" font-size="9.6" text-anchor="start" fill="#fff">600°C</text>
<text class="w" transform="translate(245.81,458.6) rotate(-90)" font-size="9.6" text-anchor="start" fill="#fff">380°C</text>
<text class="w" transform="translate(271.09,458.6) rotate(-90)" font-size="9.6" text-anchor="start" fill="#fff">420°C</text>
<text class="w" transform="translate(296.36,458.6) rotate(-90)" font-size="9.6" text-anchor="start" fill="#fff">460°C</text>
<text class="w" transform="translate(321.64,458.6) rotate(-90)" font-size="9.6" text-anchor="start" fill="#fff">500°C</text>
<text class="w" transform="translate(346.91,458.6) rotate(-90)" font-size="9.6" text-anchor="start" fill="#fff">550°C</text>
<text class="w" transform="translate(372.19,458.6) rotate(-90)" font-size="9.6" text-anchor="start" fill="#fff">600°C</text>
<text class="w" transform="translate(397.46,458.6) rotate(-90)" font-size="9.6" text-anchor="start" fill="#fff">500°C</text>
<text class="w" transform="translate(422.74,458.6) rotate(-90)" font-size="9.6" text-anchor="start" fill="#fff">600°C</text>
<text class="w" transform="translate(448.01,458.6) rotate(-90)" font-size="9.6" text-anchor="start" fill="#fff">700°C</text>
<text class="w" transform="translate(473.29,458.6) rotate(-90)" font-size="9.6" text-anchor="start" fill="#fff">800°C</text>
<text class="w" transform="translate(498.56,458.6) rotate(-90)" font-size="9.6" text-anchor="start" fill="#fff">900°C</text>
<text class="w" transform="translate(523.84,458.6) rotate(-90)" font-size="9.6" text-anchor="start" fill="#fff">1000°C</text>
<text transform="translate(67.29,472.4) rotate(-90)" font-size="9.6" text-anchor="end" fill="#1a1a1a">lunar soils</text>
<text transform="translate(92.56,472.4) rotate(-90)" font-size="9.6" text-anchor="end" fill="#1a1a1a">#1</text>
<text transform="translate(117.84,472.4) rotate(-90)" font-size="9.6" text-anchor="end" fill="#1a1a1a">#2</text>
<text transform="translate(143.11,472.4) rotate(-90)" font-size="9.6" text-anchor="end" fill="#1a1a1a">#3</text>
<text transform="translate(168.39,472.4) rotate(-90)" font-size="9.6" text-anchor="end" fill="#1a1a1a">#4</text>
<text transform="translate(193.66,472.4) rotate(-90)" font-size="9.6" text-anchor="end" fill="#1a1a1a">#5</text>
<text transform="translate(218.94,472.4) rotate(-90)" font-size="9.6" text-anchor="end" fill="#1a1a1a">#6</text>
<text transform="translate(244.21,472.4) rotate(-90)" font-size="9.6" text-anchor="end" fill="#1a1a1a">#7</text>
<text transform="translate(269.49,472.4) rotate(-90)" font-size="9.6" text-anchor="end" fill="#1a1a1a">#8</text>
<text transform="translate(294.76,472.4) rotate(-90)" font-size="9.6" text-anchor="end" fill="#1a1a1a">#9</text>
<text transform="translate(320.04,472.4) rotate(-90)" font-size="9.6" text-anchor="end" fill="#1a1a1a">#10</text>
<text transform="translate(345.31,472.4) rotate(-90)" font-size="9.6" text-anchor="end" fill="#1a1a1a">#11</text>
<text transform="translate(370.59,472.4) rotate(-90)" font-size="9.6" text-anchor="end" fill="#1a1a1a">#12</text>
<text transform="translate(395.86,472.4) rotate(-90)" font-size="9.6" text-anchor="end" fill="#1a1a1a">#13</text>
<text transform="translate(421.14,472.4) rotate(-90)" font-size="9.6" text-anchor="end" fill="#1a1a1a">#14</text>
<text transform="translate(446.41,472.4) rotate(-90)" font-size="9.6" text-anchor="end" fill="#1a1a1a">#15</text>
<text transform="translate(471.69,472.4) rotate(-90)" font-size="9.6" text-anchor="end" fill="#1a1a1a">#16</text>
<text transform="translate(496.96,472.4) rotate(-90)" font-size="9.6" text-anchor="end" fill="#1a1a1a">#17</text>
<text transform="translate(522.24,472.4) rotate(-90)" font-size="9.6" text-anchor="end" fill="#1a1a1a">#18</text>
<text transform="translate(547.51,472.4) rotate(-90)" font-size="9.6" text-anchor="end" fill="#1a1a1a">#19</text>
<text transform="translate(572.79,472.4) rotate(-90)" font-size="9.6" text-anchor="end" fill="#1a1a1a">#20</text>
<text transform="translate(598.06,472.4) rotate(-90)" font-size="9.6" text-anchor="end" fill="#1a1a1a">#21</text>
<text transform="translate(623.34,472.4) rotate(-90)" font-size="9.6" text-anchor="end" fill="#1a1a1a">#22</text>
<text transform="translate(648.61,472.4) rotate(-90)" font-size="9.6" text-anchor="end" fill="#1a1a1a">#23</text>
<text transform="translate(673.89,472.4) rotate(-90)" font-size="9.6" text-anchor="end" fill="#1a1a1a">#24</text>
<text transform="translate(545.61,497.4) rotate(-90)" font-size="9.6" text-anchor="end" fill="#1a1a1a"><tspan font-size="7.6" dy="-1.6">*</tspan><tspan dx="1.0" dy="1.6">hexane soot</tspan></text>
<text transform="translate(572.39,497.4) rotate(-90)" font-size="9.6" text-anchor="end" fill="#1a1a1a"><tspan font-size="7.6" dy="-1.6">*</tspan><tspan dx="1.0" dy="1.6">diesel soot</tspan></text>
<text transform="translate(673.69,494) rotate(-90)" font-size="9.6" text-anchor="end" fill="#1a1a1a">graphene (10×10)</text>
<text x="149.8" y="504.6" font-size="9.6" text-anchor="middle" fill="#1a1a1a">artificial thermal series</text>
<text x="149.8" y="517" font-size="9.6" text-anchor="middle" fill="#1a1a1a">kerogen I</text>
<text x="300.6" y="504.1" font-size="9.6" text-anchor="middle" fill="#1a1a1a">artificial thermal series</text>
<text x="300.6" y="516.5" font-size="9.6" text-anchor="middle" fill="#1a1a1a">kerogen II</text>
<text x="460.5" y="503.7" font-size="9.6" text-anchor="middle" fill="#1a1a1a"><tspan font-size="7.6" dy="-1.6">*</tspan><tspan dx="1.0" dy="1.6">artificial thermal series</tspan></text>
<text x="460.5" y="516.1" font-size="9.6" text-anchor="middle" fill="#1a1a1a">wood char</text>
<text x="621.4" y="503.9" font-size="9.6" text-anchor="middle" fill="#1a1a1a"><tspan font-size="7.6" dy="-1.6">*</tspan><tspan dx="1.0" dy="1.6">coke</tspan></text>
<text transform="translate(3.1,292.9) scale(0.925,1)" font-size="10.6" font-weight="bold" fill="#1a1a1a">(B)</text>
<text transform="translate(8.3,387.6) rotate(-90)" font-size="9.5" text-anchor="middle" fill="#1a1a1a">BPCA%</text>
<rect x="216.3" y="295.7" width="255.2" height="16.7" fill="#fff" stroke="#333" stroke-width="1.1"/>
<rect x="222.65" y="299.85" width="21.3" height="9.6" fill="#000000" stroke="#000" stroke-width="1.3"/>
<text transform="translate(246.9,308.6) scale(0.95,1)" font-size="10" fill="#1a1a1a">B6CA</text>
<rect x="286.25" y="299.85" width="21.3" height="9.6" fill="#ff0000" stroke="#000" stroke-width="1.3"/>
<text transform="translate(310.5,308.6) scale(0.95,1)" font-size="10" fill="#1a1a1a">B5CA</text>
<rect x="349.85" y="299.85" width="21.3" height="9.6" fill="#0000ff" stroke="#000" stroke-width="1.3"/>
<text transform="translate(374.1,308.6) scale(0.95,1)" font-size="10" fill="#1a1a1a">B4CA</text>
<rect x="413.45" y="299.85" width="21.3" height="9.6" fill="#ff00ff" stroke="#000" stroke-width="1.3"/>
<text transform="translate(437.7,308.6) scale(0.95,1)" font-size="10" fill="#1a1a1a">B3CA</text>
</svg></body></html>
